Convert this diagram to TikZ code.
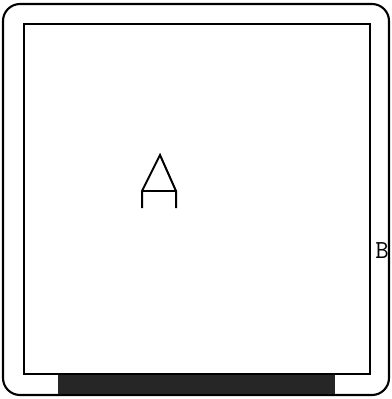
\documentclass[tikz,border=0pt]{standalone}
\begin{document}
\begin{tikzpicture}[x=1pt,y=-1pt,
  frame/.style={draw=black,line width=2.1pt},
  barfill/.style={fill=black!85,draw=none},
  glyph/.style={draw=black,line width=2pt,line join=miter},
  lbl/.style={inner sep=0pt,font=\ttfamily\fontsize{26pt}{26pt}\selectfont}]
\useasboundingbox[fill=white] (0,0) rectangle (391,399);
\draw[frame,rounded corners=17pt] (3,4) rectangle (389,395);
\fill[barfill] (58,374) rectangle (335,393.5);
\draw[frame] (24,24) rectangle (370,374);
% A shape
\draw[glyph] (142,208) -- (142,191) -- (160,155) -- (176,191) -- (176,208);
\draw[glyph] (142,191) -- (176,191);
\node[lbl] (B) at (382,251) {B};
\end{tikzpicture}
\end{document}
